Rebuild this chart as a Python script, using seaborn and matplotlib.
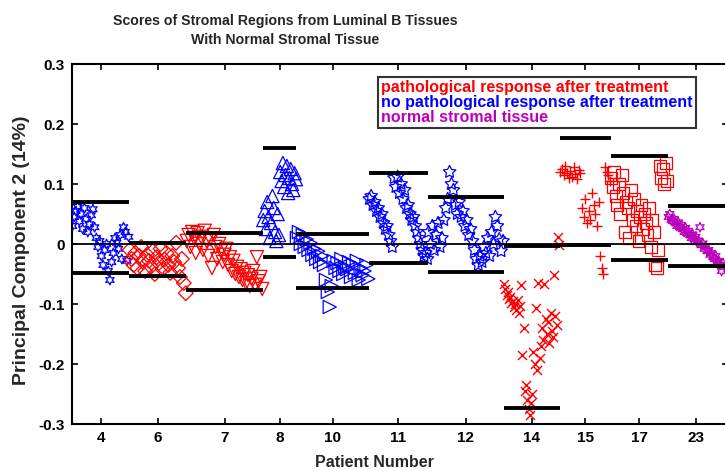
import numpy as np
import pandas as pd
import matplotlib
matplotlib.use('Agg')
import matplotlib.pyplot as plt
import seaborn as sns
from matplotlib.lines import Line2D
from matplotlib.ticker import FuncFormatter

patients = ['4', '6', '7', '8', '10', '11', '12', '14', '15', '17', '23']
n_regions = [56, 56, 75, 33, 71, 58, 74, 55, 50, 56, 56]

scores_4 = [0.030, 0.045, 0.055, 0.062, 0.038, 0.050, 0.025, 0.060, 0.042, 0.020, 0.033, 0.048,
            0.058, 0.028, 0.010, -0.005, 0.005, -0.020, -0.035, -0.010, 0.000, -0.045, -0.060,
            -0.030, -0.015, 0.010, 0.002, -0.008, 0.015, -0.025, 0.028, 0.020, -0.028, 0.012]
scores_6 = [-0.010, -0.025, -0.035, -0.015, -0.040, -0.020, -0.005, -0.030, -0.045, -0.018,
            -0.028, -0.038, -0.012, -0.050, -0.022, -0.032, -0.008, -0.042, -0.026, -0.015,
            -0.035, -0.048, -0.020, -0.030, 0.002, -0.040, -0.055, -0.025, -0.065, -0.082]
scores_7 = [0.005, 0.015, -0.005, 0.020, 0.010, -0.015, 0.018, 0.000, 0.012, -0.010, 0.022, 0.005,
            -0.020, 0.008, -0.040, 0.015, -0.005, -0.025, 0.000, -0.012, -0.030, -0.018, -0.008,
            -0.035, -0.022, -0.045, -0.028, -0.050, -0.038, -0.055, -0.042, -0.060, -0.048,
            -0.065, -0.052, -0.070, -0.058, -0.045, -0.068, -0.022, -0.062, -0.055, -0.075]
scores_8 = [0.040, 0.055, 0.025, 0.070, 0.045, 0.010, 0.035, 0.080, 0.060, 0.020, 0.005, 0.050,
            0.015, 0.120, 0.105, 0.135, 0.095, 0.115, 0.130, 0.085, 0.110, 0.125, 0.100, 0.090,
            0.118, 0.108]
scores_10 = [0.010, 0.020, 0.000, 0.015, -0.005, 0.008, -0.010, 0.002, -0.018, -0.008, -0.025,
             -0.012, -0.030, -0.020, -0.035, -0.060, -0.080, -0.105, -0.070, -0.028, -0.040,
             -0.032, -0.045, -0.025, -0.050, -0.038, -0.042, -0.030, -0.055, -0.035, -0.048,
             -0.028, -0.060, -0.040, -0.052, -0.045, -0.035, -0.058]
scores_11 = [0.075, 0.080, 0.065, 0.070, 0.055, 0.060, 0.045, 0.050, 0.035, 0.025, 0.030, 0.015,
             0.005, -0.005, 0.110, 0.095, 0.112, 0.085, 0.100, 0.075, 0.090, 0.060, 0.065, 0.050,
             0.040, 0.045, 0.030, 0.020, 0.010, 0.000, -0.010, -0.020, -0.015, -0.025]
scores_12 = [0.020, 0.000, 0.030, -0.010, 0.015, 0.035, -0.005, 0.010, 0.040, 0.060, 0.075, 0.120,
             0.100, 0.090, 0.065, 0.050, 0.070, 0.045, 0.055, 0.030, 0.040, 0.015, 0.025, 0.005,
             -0.010, -0.025, -0.035, -0.020, -0.030, -0.005, -0.015, 0.010, -0.020, 0.020, 0.000,
             0.045, 0.030, 0.008, -0.012, 0.005]
scores_14 = [-0.066, -0.075, -0.085, -0.080, -0.092, -0.088, -0.098, -0.095, -0.105, -0.100,
             -0.110, -0.093, -0.115, -0.103, -0.068, -0.185, -0.140, -0.245, -0.235, -0.260,
             -0.275, -0.285, -0.265, -0.250, -0.180, -0.200, -0.107, -0.210, -0.065, -0.190,
             -0.170, -0.140, -0.160, -0.067, -0.125, -0.150, -0.130, -0.165, -0.115, -0.145,
             -0.155, -0.052, -0.120, -0.135, 0.012, -0.002]
scores_15 = [0.120, 0.125, 0.115, 0.130, 0.118, 0.110, 0.122, 0.112, 0.128, 0.116, 0.108, 0.124,
             0.119, 0.060, 0.045, 0.075, 0.035, 0.055, 0.040, 0.085, 0.065, 0.050, 0.030, 0.070,
             -0.020, -0.040, -0.050, 0.128, 0.120, 0.115, 0.105]
scores_17 = [0.110, 0.095, 0.120, 0.080, 0.065, 0.100, 0.050, 0.115, 0.085, 0.020, 0.070, 0.060,
             0.010, 0.090, 0.040, 0.075, 0.030, 0.055, 0.005, 0.045, 0.065, 0.025, 0.050, 0.035,
             0.015, 0.060, -0.005, 0.040, 0.020, -0.035, -0.040, -0.010, 0.130, 0.110, 0.125,
             0.100, 0.135, 0.105]
scores_23 = [0.045, 0.050, 0.040, 0.038, 0.042, 0.035, 0.030, 0.036, 0.028, 0.032, 0.025, 0.020,
             0.027, 0.018, 0.022, 0.015, 0.010, 0.016, 0.008, 0.012, 0.003, 0.006, 0.028, -0.002,
             0.001, -0.008, -0.004, -0.012, -0.010, -0.018, -0.015, -0.022, -0.025, -0.020,
             -0.030, -0.028, -0.035, -0.045, -0.032, -0.038]

upper_lines = [0.070, 0.001, 0.018, 0.160, 0.017, 0.118, 0.078, -0.004, 0.177, 0.146, 0.064]
lower_lines = [-0.049, -0.054, -0.076, -0.021, -0.074, -0.031, -0.046, -0.274, -0.001, -0.026, -0.036]

legend_labels = ['pathological response after treatment',
                 'no pathological response after treatment',
                 'normal stromal tissue']

all_scores = [scores_4, scores_6, scores_7, scores_8, scores_10, scores_11, scores_12,
              scores_14, scores_15, scores_17, scores_23]

red, blue, mag = '#FF0000', '#0000FF', '#BB00BB'
hexagram = (6, 1, 0)
pentagram = (5, 1, 0)
styles = {
    '4': (blue, hexagram, 7, True),
    '6': (red, 'D', 7.5, True),
    '7': (red, 'v', 9.5, True),
    '8': (blue, '^', 9.5, True),
    '10': (blue, '>', 9.5, True),
    '11': (blue, pentagram, 9.5, True),
    '12': (blue, pentagram, 9.5, True),
    '14': (red, 'x', 6.5, False),
    '15': (red, '+', 7.5, False),
    '17': (red, 's', 8.5, True),
    '23': (mag, hexagram, 7, True),
}

# build one table: each patient's regions are laid out in sequence along x
starts = np.concatenate([[0], np.cumsum(n_regions)[:-1]])
ends = starts + np.array(n_regions)
rows = []
for p, s, e, sc in zip(patients, starts, ends, all_scores):
    xs = np.linspace(s + 0.5, e - 0.5, len(sc))
    for x, y in zip(xs, sc):
        rows.append({'region': x, 'score': y, 'patient': p})
df = pd.DataFrame(rows)

sns.set_theme(style='ticks')
plt.rcParams['font.family'] = ['Liberation Sans', 'DejaVu Sans']

fig = plt.figure(figsize=(7.25, 4.71), dpi=100)
ax = fig.add_axes([72 / 725, 47 / 471, 656 / 725, 360 / 471])

for p in patients:
    color, marker, ms, filled = styles[p]
    sub = df[df['patient'] == p]
    if filled:
        sns.scatterplot(data=sub, x='region', y='score', marker=marker, s=ms ** 2,
                        facecolor='none', edgecolor=color, linewidth=0.9, ax=ax,
                        legend=False, zorder=3)
    else:
        sns.scatterplot(data=sub, x='region', y='score', marker=marker, s=ms ** 2,
                        color=color, linewidth=1.0, ax=ax, legend=False, zorder=3)

ax.axhline(0, color='black', lw=1.3, zorder=4)
ax.hlines(upper_lines, starts, ends, color='black', lw=2.8, zorder=5)
ax.hlines(lower_lines, starts, ends, color='black', lw=2.8, zorder=5)

ax.set_xlim(0, 643)
ax.set_ylim(-0.3, 0.3)
ax.set_xticks((starts + ends) / 2)
ax.set_xticklabels(patients)
ax.set_yticks(np.arange(-0.3, 0.31, 0.1))
ax.yaxis.set_major_formatter(FuncFormatter(lambda v, pos: '0' if abs(v) < 1e-9 else f'{v:.1f}'))
ax.tick_params(direction='in', length=4, width=1.2, top=True, right=True,
               labelsize=11, colors='black', pad=5)
for lab in ax.get_xticklabels() + ax.get_yticklabels():
    lab.set_fontweight('bold')
for sp in ax.spines.values():
    sp.set_visible(True)
    sp.set_linewidth(1.5)
    sp.set_color('black')
ax.set_xlabel('')
ax.set_ylabel('')

handles = [Line2D([], [], linestyle='none') for _ in legend_labels]
leg = ax.legend(handles, legend_labels, loc='upper left', bbox_to_anchor=(0.466, 0.964),
                borderaxespad=0, handlelength=0, handletextpad=0, borderpad=0.2,
                labelspacing=0.0, frameon=True, fancybox=False,
                prop={'weight': 'bold', 'size': 11.5})
leg.get_frame().set_edgecolor('black')
leg.get_frame().set_linewidth(1.5)
for txt, c in zip(leg.get_texts(), [red, blue, mag]):
    txt.set_color(c)

fig.text(285 / 725, 1 - 14 / 471,
         'Scores of Stromal Regions from Luminal B Tissues\nWith Normal Stromal Tissue',
         ha='center', va='top', fontsize=10.2, fontweight='bold', linespacing=1.5)
fig.text(22 / 725, 1 - 250 / 471, 'Principal Component 2 (14%)', rotation=90,
         ha='center', va='center', fontsize=14, fontweight='bold')
fig.text(374 / 725, 1 - 467 / 471, 'Patient Number', ha='center', va='baseline',
         fontsize=11.5, fontweight='bold')

fig.savefig('out.png', dpi=100)
